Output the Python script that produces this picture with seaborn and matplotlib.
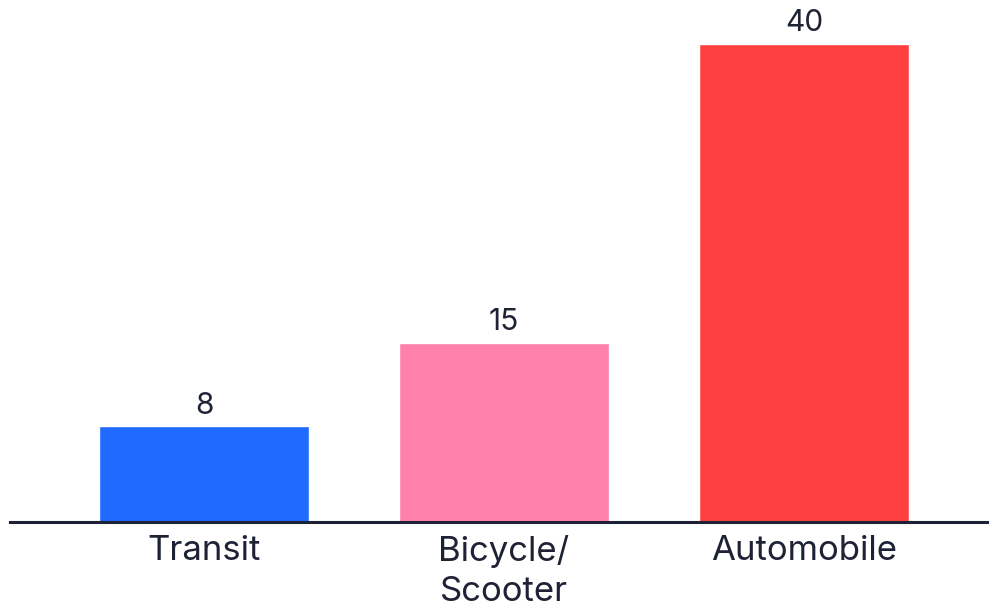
import matplotlib
matplotlib.use("Agg")
import matplotlib.pyplot as plt
import seaborn as sns
import pandas as pd

categories = ["Transit", "Bicycle/\nScooter", "Automobile"]
values = [8, 15, 40]
colors = ["#1F6BFF", "#FF80AB", "#FF4040"]

sns.set_style("white")
plt.rcParams["font.family"] = ["Inter", "DejaVu Sans"]

df = pd.DataFrame({"mode": categories, "value": values})

fig = plt.figure(figsize=(9.89, 6.13), dpi=100)
ax = fig.add_axes([10 / 989, (613 - 522) / 613, 979 / 989, 522 / 613])

sns.barplot(data=df, x="mode", y="value", hue="mode", palette=colors,
            width=0.7, legend=False, ax=ax, saturation=1)

for p, v in zip(ax.patches, values):
    ax.text(p.get_x() + p.get_width() / 2, p.get_height() + 0.55, f"{v}",
            ha="center", va="bottom", fontsize=21.5, color="#1e2235")

ax.set_xlim(-0.647, 2.617)
ax.set_ylim(0, 40 * 522 / 478)
ax.set_xlabel("")
ax.set_ylabel("")
ax.set_yticks([])
ax.tick_params(axis="x", length=0, pad=9, labelsize=25, colors="#1e2235")
for lbl in ax.get_xticklabels():
    lbl.set_linespacing(1.35)
for s in ["top", "right", "left"]:
    ax.spines[s].set_visible(False)
ax.spines["bottom"].set_color("#1e2235")
ax.spines["bottom"].set_linewidth(2.2)

fig.savefig("out.png", dpi=100)
